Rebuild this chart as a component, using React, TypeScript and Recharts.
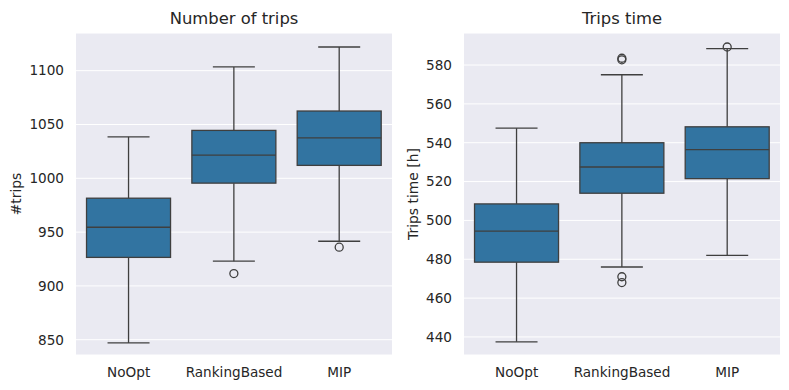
import { ComposedChart, Bar, XAxis, YAxis, CartesianGrid } from "recharts";

const categories = ["NoOpt", "RankingBased", "MIP"];

// Number of trips
const tripsLow = [847, 923, 941.5];
const tripsQ1 = [926.5, 995.5, 1012];
const tripsMedian = [954.5, 1021.5, 1037.5];
const tripsQ3 = [981.5, 1044.5, 1062.5];
const tripsHigh = [1038.5, 1103.5, 1122];
const tripsOutliers = [[], [911.5], [936]];
const tripsTicks = [850, 900, 950, 1000, 1050, 1100];

// Trips time [h]
const timeLow = [437.5, 476, 482];
const timeQ1 = [478.5, 514, 521.5];
const timeMedian = [494.5, 527.5, 536.5];
const timeQ3 = [508.5, 540, 548.2];
const timeHigh = [547.5, 575, 588.5];
const timeOutliers = [[], [468, 471, 582.7, 583.5], [589.3]];
const timeTicks = [440, 460, 480, 500, 520, 540, 560, 580];

const LINE = "#3f3f3f";
const BOX = "#3274a1";
const TEXT = "#262626";
const FONT = "DejaVu Sans";

type Row = {
  name: string;
  low: number;
  q1: number;
  median: number;
  q3: number;
  high: number;
  outliers: number[];
  range: [number, number];
};

function buildRows(
  low: number[],
  q1: number[],
  median: number[],
  q3: number[],
  high: number[],
  outliers: number[][]
): Row[] {
  return categories.map((name, i) => ({
    name,
    low: low[i],
    q1: q1[i],
    median: median[i],
    q3: q3[i],
    high: high[i],
    outliers: outliers[i],
    range: [low[i], high[i]],
  }));
}

// draws the box, whiskers and fliers inside the whisker-range bar
function BoxShape(props: any) {
  const { x, y, width, height, payload } = props;
  const top = Math.min(y, y + height);
  const bottom = Math.max(y, y + height);
  const span = payload.high - payload.low;
  const py = (v: number) => bottom - ((v - payload.low) / span) * (bottom - top);
  const cx = x + width / 2;
  const cap = width / 4;
  const sw = 1.3;
  return (
    <g>
      <line x1={cx} x2={cx} y1={py(payload.high)} y2={py(payload.q3)} stroke={LINE} strokeWidth={sw} />
      <line x1={cx} x2={cx} y1={py(payload.q1)} y2={py(payload.low)} stroke={LINE} strokeWidth={sw} />
      <line x1={cx - cap} x2={cx + cap} y1={py(payload.high)} y2={py(payload.high)} stroke={LINE} strokeWidth={sw} />
      <line x1={cx - cap} x2={cx + cap} y1={py(payload.low)} y2={py(payload.low)} stroke={LINE} strokeWidth={sw} />
      <rect
        x={x}
        y={py(payload.q3)}
        width={width}
        height={py(payload.q1) - py(payload.q3)}
        fill={BOX}
        stroke={LINE}
        strokeWidth={sw}
      />
      <line x1={x} x2={x + width} y1={py(payload.median)} y2={py(payload.median)} stroke={LINE} strokeWidth={sw} />
      {payload.outliers.map((v: number, i: number) => (
        <circle key={i} cx={cx} cy={py(v)} r={4} fill="none" stroke={LINE} strokeWidth={sw} />
      ))}
    </g>
  );
}

function yLabel(text: string, dx: number) {
  return (props: any) => {
    const vb = props.viewBox;
    const lx = vb.x + dx;
    const ly = vb.y + vb.height / 2;
    return (
      <text
        x={lx}
        y={ly}
        transform={`rotate(-90, ${lx}, ${ly})`}
        textAnchor="middle"
        dominantBaseline="central"
        fill={TEXT}
        fontSize={13.9}
        fontFamily={FONT}
      >
        {text}
      </text>
    );
  };
}

function BoxPanel({
  rows,
  title,
  label,
  labelDx,
  domain,
  ticks,
  left,
  width,
  axisWidth,
  rightMargin,
}: {
  rows: Row[];
  title: string;
  label: string;
  labelDx: number;
  domain: [number, number];
  ticks: number[];
  left: number;
  width: number;
  axisWidth: number;
  rightMargin: number;
}) {
  const plotLeft = axisWidth;
  const plotRight = width - rightMargin;
  return (
    <div style={{ position: "absolute", left, top: 0, width, height: 390 }}>
      <div
        style={{
          position: "absolute",
          top: 10.6,
          left: plotLeft,
          width: plotRight - plotLeft,
          textAlign: "center",
          fontSize: 16.4,
          lineHeight: "16.4px",
          color: TEXT,
          fontFamily: FONT,
          whiteSpace: "nowrap",
        }}
      >
        {title}
      </div>
      <ComposedChart
        width={width}
        height={390}
        data={rows}
        margin={{ top: 33, right: rightMargin, bottom: 0, left: 0 }}
        barCategoryGap="10%"
      >
        <CartesianGrid vertical={false} stroke="#ffffff" strokeWidth={1} fill="#eaeaf2" />
        <XAxis
          dataKey="name"
          height={35}
          axisLine={false}
          tickLine={false}
          tickSize={0}
          tickMargin={12}
          tick={{ fontSize: 13.6, fill: TEXT, fontFamily: FONT }}
        />
        <YAxis
          type="number"
          domain={domain}
          ticks={ticks}
          allowDataOverflow
          width={axisWidth}
          axisLine={false}
          tickLine={false}
          tickSize={0}
          tickMargin={12}
          tick={{ fontSize: 13.6, fill: TEXT, fontFamily: FONT }}
          label={{ content: yLabel(label, labelDx) }}
        />
        <Bar dataKey="range" shape={BoxShape} isAnimationActive={false} />
      </ComposedChart>
    </div>
  );
}

export default function App() {
  const tripsRows = buildRows(tripsLow, tripsQ1, tripsMedian, tripsQ3, tripsHigh, tripsOutliers);
  const timeRows = buildRows(timeLow, timeQ1, timeMedian, timeQ3, timeHigh, timeOutliers);
  return (
    <div
      style={{
        position: "absolute",
        left: 0,
        top: 0,
        width: 789,
        height: 390,
        background: "#ffffff",
        fontFamily: FONT,
      }}
    >
      <BoxPanel
        rows={tripsRows}
        title="Number of trips"
        label="#trips"
        labelDx={16}
        domain={[835.8, 1135]}
        ticks={tripsTicks}
        left={0}
        width={395}
        axisWidth={76}
        rightMargin={3}
      />
      <BoxPanel
        rows={timeRows}
        title="Trips time"
        label="Trips time [h]"
        labelDx={18}
        domain={[430.7, 596.5]}
        ticks={timeTicks}
        left={395}
        width={394}
        axisWidth={69}
        rightMargin={9}
      />
    </div>
  );
}
